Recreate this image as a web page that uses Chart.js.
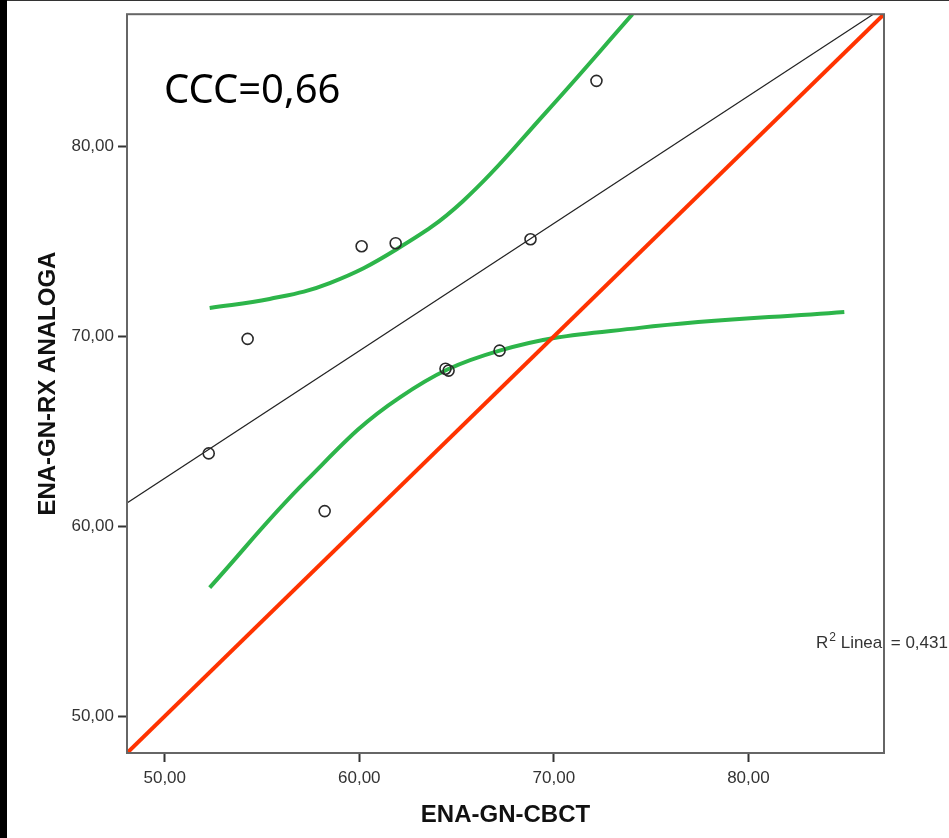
<!DOCTYPE html>
<html>
<head>
<meta charset="utf-8">
<title>ENA-GN</title>
<script src="https://cdn.jsdelivr.net/npm/chart.js@4.4.1/dist/chart.umd.min.js"></script>
<style>
  html, body { margin: 0; padding: 0; background: #fff; }
  #wrap { position: relative; width: 949px; height: 838px; overflow: hidden; }
  #leftbar { position: absolute; left: 0; top: 0; width: 7px; height: 838px; background: #000; }
  #topline { position: absolute; left: 7px; top: 0; width: 942px; height: 1px; background: #333; }
  canvas { position: absolute; left: 0; top: 0; }
</style>
</head>
<body>
<div id="wrap">
  <canvas id="myChart" width="949" height="838"></canvas>
  <div id="leftbar"></div>
  <div id="topline"></div>
</div>
<script>
// measurements: ENA-GN on CBCT (x) vs analog radiograph (y)
let cbct    = [52.26, 54.26, 58.22, 60.12, 61.87, 64.43, 64.59, 67.21, 68.80, 72.19];
let analoga = [63.84, 69.87, 60.80, 74.75, 74.91, 68.30, 68.20, 69.25, 75.12, 83.46];

// 95% confidence band around the fit line
let upperX = [52.31, 55.39, 58.48, 61.92, 65.31, 69.62, 74.04];
let upperY = [71.50, 71.97, 72.81, 74.59, 77.11, 81.83, 86.97];
let lowerX = [52.31, 57.30, 62.07, 67.21, 74.40, 84.93];
let lowerY = [56.77, 62.43, 66.78, 69.25, 70.45, 71.29];

let axisMin = 48.06;
let axisMax = 86.97;
let tickValues = [50, 60, 70, 80];

let FONT = "'Liberation Sans', Arial, sans-serif";

// least squares line through the points
let n = cbct.length;
let mx = cbct.reduce((a, b) => a + b, 0) / n;
let my = analoga.reduce((a, b) => a + b, 0) / n;
let sxy = 0, sxx = 0;
for (let i = 0; i < n; i++) {
  sxy += (cbct[i] - mx) * (analoga[i] - my);
  sxx += (cbct[i] - mx) * (cbct[i] - mx);
}
let slope = sxy / sxx;
let icpt = my - slope * mx;

let toXY = (xs, ys) => xs.map((x, i) => ({x: x, y: ys[i]}));

let fmt = v => v.toFixed(2).replace('.', ',');

let boxAndLabels = {
  id: 'boxAndLabels',
  afterDraw(chart) {
    let ctx = chart.ctx;
    let a = chart.chartArea;
    ctx.save();
    // CCC label
    ctx.fillStyle = '#000';
    ctx.font = "40px 'Noto Sans', sans-serif";
    ctx.textBaseline = 'alphabetic';
    ctx.fillText('CCC=0,66', a.left + 37, 103);
    // R2 label
    ctx.fillStyle = '#333';
    ctx.font = '17px ' + FONT;
    let x = 816, y = 648;
    ctx.fillText('R', x, y);
    x += ctx.measureText('R').width;
    ctx.font = '12px ' + FONT;
    ctx.fillText('2', x + 1, y - 7);
    x += ctx.measureText('2').width + 1;
    ctx.font = '17px ' + FONT;
    ctx.fillText(' Lineal = 0,431', x, y);
    // plot frame
    ctx.strokeStyle = '#666';
    ctx.lineWidth = 2;
    ctx.strokeRect(a.left, a.top, a.right - a.left, a.bottom - a.top);
    ctx.restore();
  }
};

let axisCommon = {
  type: 'linear',
  min: axisMin,
  max: axisMax,
  afterBuildTicks: s => { s.ticks = tickValues.map(v => ({value: v})); },
  grid: {
    display: true,
    drawOnChartArea: false,
    drawTicks: true,
    tickLength: 9,
    tickWidth: 2,
    tickColor: '#333'
  },
  border: {display: false}
};

let ctx = document.getElementById('myChart').getContext('2d');
let chart = new Chart(ctx, {
  type: 'scatter',
  data: {
    datasets: [
      {
        label: 'points',
        data: toXY(cbct, analoga),
        pointRadius: 5.5,
        pointBorderWidth: 1.6,
        pointBorderColor: '#2a2a2a',
        pointBackgroundColor: 'rgba(0,0,0,0)',
        showLine: false
      },
      {
        label: 'identity',
        data: [{x: axisMin, y: axisMin}, {x: axisMax, y: axisMax}],
        showLine: true,
        borderColor: '#ff3300',
        borderWidth: 4,
        pointRadius: 0,
        clip: 0
      },
      {
        label: 'upper',
        data: toXY(upperX, upperY),
        showLine: true,
        borderColor: '#2db54a',
        borderWidth: 4,
        pointRadius: 0,
        tension: 0.4,
        clip: 0
      },
      {
        label: 'lower',
        data: toXY(lowerX, lowerY),
        showLine: true,
        borderColor: '#2db54a',
        borderWidth: 4,
        pointRadius: 0,
        tension: 0.4,
        clip: 0
      },
      {
        label: 'fit',
        data: [{x: axisMin, y: icpt + slope * axisMin}, {x: axisMax, y: icpt + slope * axisMax}],
        showLine: true,
        borderColor: '#222',
        borderWidth: 1.2,
        pointRadius: 0,
        clip: 0
      }
    ]
  },
  options: {
    responsive: false,
    animation: false,
    layout: {padding: {left: 0, right: 65, top: 12, bottom: 0}},
    plugins: {legend: {display: false}, tooltip: {enabled: false}},
    scales: {
      x: Object.assign({}, axisCommon, {
        position: 'bottom',
        afterFit: s => { s.height = 85; },
        ticks: {color: '#333', padding: 6, font: {family: FONT, size: 17}, callback: fmt},
        title: {display: true, text: 'ENA-GN-CBCT', color: '#111',
                font: {family: FONT, size: 24, weight: 'bold'}, padding: {top: 0, bottom: 8}}
      }),
      y: Object.assign({}, axisCommon, {
        position: 'left',
        afterFit: s => { s.width = 127; },
        ticks: {color: '#333', padding: 4, font: {family: FONT, size: 17}, callback: fmt},
        title: {display: true, text: 'ENA-GN-RX ANALOGA', color: '#111',
                font: {family: FONT, size: 24, weight: 'bold'}, padding: {top: 34, bottom: 0}}
      })
    }
  },
  plugins: [boxAndLabels]
});
</script>
</body>
</html>
